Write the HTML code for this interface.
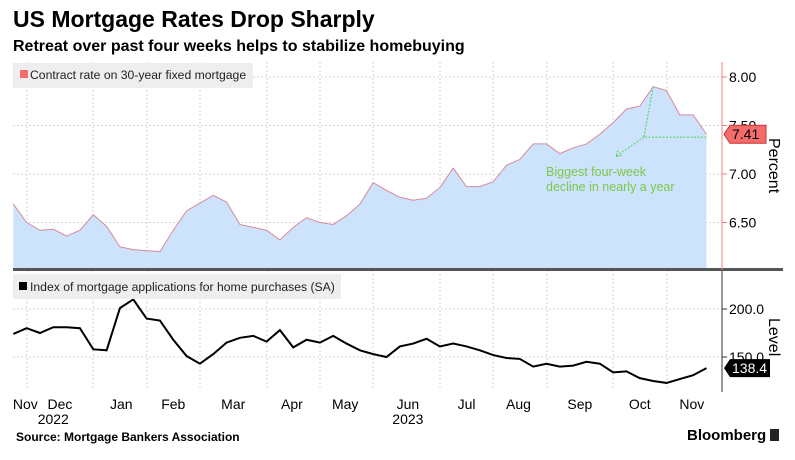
<!DOCTYPE html>
<html><head><meta charset="utf-8"><style>
body{margin:0;background:#fff;font-family:"Liberation Sans",sans-serif;}
#wrap{position:relative;width:795px;height:460px;overflow:hidden;}
.t{position:absolute;white-space:nowrap;}
</style></head><body>
<div id="wrap">
<div class="t" style="left:13px;top:6px;font-size:23px;font-weight:bold;color:#000;">US Mortgage Rates Drop Sharply</div>
<div class="t" style="left:13px;top:38px;font-size:16px;font-weight:bold;color:#000;">Retreat over past four weeks helps to stabilize homebuying</div>
<svg id="svg" width="795" height="460" style="position:absolute;left:0;top:0"></svg>
<div class="t" style="left:16px;top:430px;font-size:12px;font-weight:bold;">Source: Mortgage Bankers Association</div>
<div class="t" style="left:687px;top:427px;font-size:15px;font-weight:bold;">Bloomberg <span style="display:inline-block;width:9px;height:12px;background:#222;vertical-align:-1px"></span></div>
</div>
<script>
const rates=[6.69,6.50,6.42,6.43,6.36,6.42,6.58,6.46,6.25,6.22,6.21,6.20,6.42,6.62,6.70,6.78,6.71,6.48,6.45,6.42,6.32,6.45,6.55,6.50,6.48,6.57,6.69,6.91,6.83,6.76,6.73,6.75,6.86,7.06,6.87,6.87,6.92,7.09,7.15,7.31,7.31,7.21,7.27,7.31,7.41,7.53,7.67,7.70,7.90,7.86,7.61,7.61,7.41];
const apps=[174,180,175,181,181,180,158,157,201,210,190,188,168,151,143,153,165,170,172,166,178,160,168,165,172,164,157,153,150,161,164,169,161,164,161,157,152,149,148,140,143,140,141,145,143,134,135,128,125,123,127,131,138.4];
const rateTicks=[6.5,7.0,7.5,8.0];
const appTicks=[150,200];
const months=["Nov","Dec","Jan","Feb","Mar","Apr","May","Jun","Jul","Aug","Sep","Oct","Nov"];
const monthIdx=[0.9,3.5,8.1,12,16.5,20.9,24.9,29.6,34,37.9,42.5,47,50.9];
const years=["2022","2023"];
const yearIdx=[3,29.6];

const NS="http://www.w3.org/2000/svg",svg=document.getElementById('svg');
function mk(t,a,p){const e=document.createElementNS(NS,t);for(const k in a)e.setAttribute(k,a[k]);(p||svg).appendChild(e);return e;}
const x=i=>13.3+i*13.33;
const yR=v=>174-(v-7)*97;
const yA=v=>309-(v-200)*0.96;
const X0=13,X1=722;
const gx=[27,93,147,200,267,320,373,440,493,547,613,667];
gx.forEach(g=>{let l=mk('line',{x1:g,x2:g,y1:62,y2:390,stroke:'#d6d6d6','stroke-dasharray':'2,2'});
});
rateTicks.forEach(t=>{let l=mk('line',{x1:X0,x2:X1,y1:yR(t),y2:yR(t),stroke:'#d6d6d6','stroke-dasharray':'2,2'});
});
appTicks.forEach(t=>{let l=mk('line',{x1:X0,x2:X1,y1:yA(t),y2:yA(t),stroke:'#d6d6d6','stroke-dasharray':'2,2'});
});
let d='M'+x(0)+',270';rates.forEach((v,i)=>d+='L'+x(i)+','+yR(v));d+='L'+x(rates.length-1)+',270Z';
let ar=mk('path',{d:d,fill:'#cce3fb'});

let ln=mk('polyline',{points:rates.map((v,i)=>x(i)+','+yR(v)).join(' '),fill:'none',stroke:'#d88a9a','stroke-width':1});

let al=mk('polyline',{points:apps.map((v,i)=>x(i)+','+yA(v)).join(' '),fill:'none',stroke:'#000','stroke-width':2});

let sep=mk('rect',{x:X0,y:268,width:770,height:3,fill:'#555'});

let ax1=mk('line',{x1:X1,x2:X1,y1:62,y2:270,stroke:'#f08080'});

let ax2=mk('line',{x1:X1,x2:X1,y1:271,y2:392,stroke:'#333'});

rateTicks.forEach(t=>{mk('line',{x1:X1,x2:X1+5,y1:yR(t),y2:yR(t),stroke:'#f08080'});
let tx=mk('text',{x:X1+7,y:yR(t)+5,'font-size':14,fill:'#000'});tx.textContent=t.toFixed(2);
});
appTicks.forEach(t=>{mk('line',{x1:X1,x2:X1+5,y1:yA(t),y2:yA(t),stroke:'#333'});
let tx=mk('text',{x:X1+7,y:yA(t)+5,'font-size':14,fill:'#000'});tx.textContent=t.toFixed(1);
});
let p=mk('text',{x:0,y:0,'font-size':16,transform:'translate(769,138) rotate(90)'});p.textContent='Percent';

let lv=mk('text',{x:0,y:0,'font-size':16,transform:'translate(769,318) rotate(90)'});lv.textContent='Level';

const lr=rates[rates.length-1],ly=yR(lr);
let b1=mk('path',{d:`M${X1+2},${ly} L${X1+8},${ly-9} H766 V${ly+9} H${X1+8}Z`,fill:'#f26c6c',stroke:'#c33'});

let b1t=mk('text',{x:X1+10,y:ly+5,'font-size':14,fill:'#000'});b1t.textContent=lr.toFixed(2);

const la=apps[apps.length-1],lay=yA(la);
let b2=mk('path',{d:`M${X1+2},${lay} L${X1+8},${lay-9} H770 V${lay+9} H${X1+8}Z`,fill:'#000'});

let b2t=mk('text',{x:X1+10,y:lay+5,'font-size':14,fill:'#fff'});b2t.textContent=la.toFixed(1);

let lg1=mk('rect',{x:13,y:63,width:240,height:25,fill:'#eee'});

mk('rect',{x:20,y:70,width:8,height:8,fill:'#f26c6c'});
let lg1t=mk('text',{x:30,y:79,'font-size':12.2,fill:'#222'});lg1t.textContent='Contract rate on 30-year fixed mortgage';

let lg2=mk('rect',{x:13,y:274,width:328,height:25,fill:'#eee'});

mk('rect',{x:19,y:282,width:8,height:8,fill:'#000'});
let lg2t=mk('text',{x:30,y:291,'font-size':12.2,fill:'#222'});lg2t.textContent='Index of mortgage applications for home purchases (SA)';

const pk=x(48),py=yR(rates[48]),jx=x(47.3),jy=yR(7.38);
let an=mk('path',{d:`M${pk},${py} L${jx},${jy} L${x(52)},${jy} M${jx},${jy} L${x(45.2)},${yR(7.18)} M${x(45.2)+6},${yR(7.18)-1} L${x(45.2)},${yR(7.18)} L${x(45.2)+2},${yR(7.18)-6}`,fill:'none',stroke:'#4cd24c','stroke-dasharray':'2,1.5'});

['Biggest four-week','decline in nearly a year'].forEach((s,i)=>{let t=mk('text',{x:546,y:176+i*15,'font-size':12.5,fill:'#7cc84a'});t.textContent=s;
});
months.forEach((m,i)=>{let t=mk('text',{x:x(monthIdx[i]),y:409,'font-size':14,'text-anchor':'middle'});t.textContent=m;
});
years.forEach((m,i)=>{let t=mk('text',{x:x(yearIdx[i]),y:424,'font-size':14,'text-anchor':'middle'});t.textContent=m;
});
</script>
</body></html>
